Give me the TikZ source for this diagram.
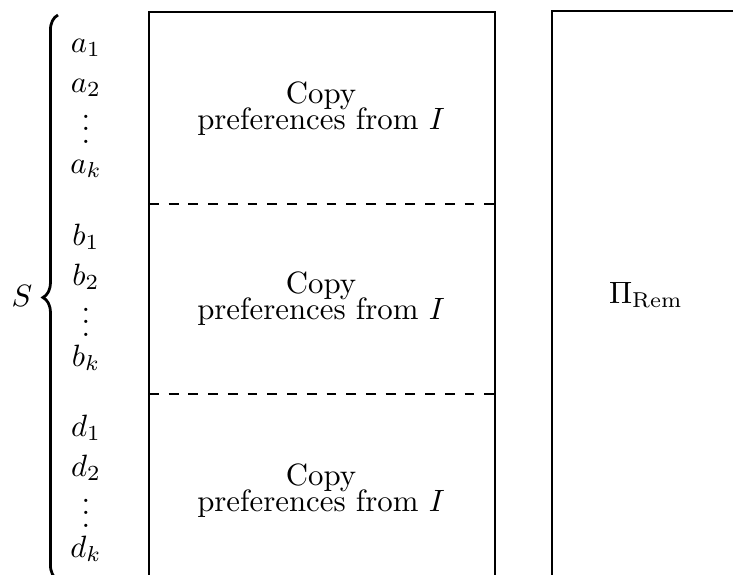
\documentclass[tikz,border=0pt]{standalone}
\usetikzlibrary{decorations.pathreplacing}
\begin{document}
\begin{tikzpicture}[x=0.3245pt,y=-0.3245pt,line width=0.45pt,
  lbl/.style={inner sep=0pt,anchor=base},
  sep/.style={dash pattern=on 3.2pt off 3.2pt},
  bracestyle/.style={line width=0.9pt,decorate,decoration={brace,amplitude=4.9pt}}]
\useasboundingbox (0,0) rectangle (733,575);
% left box
\coordinate (lbl1) at (149,580);
\coordinate (ltl) at (149,12);
\coordinate (ltr) at (495,12);
\coordinate (lbr) at (495,580);
\draw (lbl1) -- (ltl) -- (ltr) -- (lbr);
% separators
\coordinate (s1a) at (149,204); \coordinate (s1b) at (495,204);
\coordinate (s2a) at (149,394); \coordinate (s2b) at (495,394);
\draw[sep] (s1a) -- (s1b);
\draw[sep] (s2a) -- (s2b);
% right box
\coordinate (rbl) at (552,580);
\coordinate (rtl) at (552,11);
\coordinate (rtr) at (740,11);
\draw (rbl) -- (rtl) -- (rtr);
% brace
\coordinate (bb) at (58,580);
\coordinate (bt) at (58,15);
\draw[bracestyle] (bb) -- (bt);
\node[lbl] (S) at (22,306) {$S$};
% labels
\node[lbl] (a1) at (86,52) {$a_1$};
\node[lbl] (a2) at (86,92) {$a_2$};
\node[lbl] (av) at (86,143) {$\smash{\vdots}$};
\node[lbl] (ak) at (86,173) {$a_k$};
\node[lbl] (b1) at (86,245) {$b_1$};
\node[lbl] (b2) at (86,285) {$b_2$};
\node[lbl] (bv) at (86,336) {$\smash{\vdots}$};
\node[lbl] (bk) at (86,366) {$b_k$};
\node[lbl] (d1) at (86,436) {$d_1$};
\node[lbl] (d2) at (86,476) {$d_2$};
\node[lbl] (dv) at (86,527) {$\smash{\vdots}$};
\node[lbl] (dk) at (86,557) {$d_k$};
% copy texts
\node[lbl] (c1) at (321,103) {Copy};
\node[lbl] (p1) at (321,129) {preferences from $I$};
\node[lbl] (c2) at (321,293) {Copy};
\node[lbl] (p2) at (321,319) {preferences from $I$};
\node[lbl] (c3) at (321,485) {Copy};
\node[lbl] (p3) at (321,511) {preferences from $I$};
% right label
\node[lbl] (pi) at (646,303) {$\Pi_{\mathrm{Rem}}$};
\end{tikzpicture}
\end{document}
